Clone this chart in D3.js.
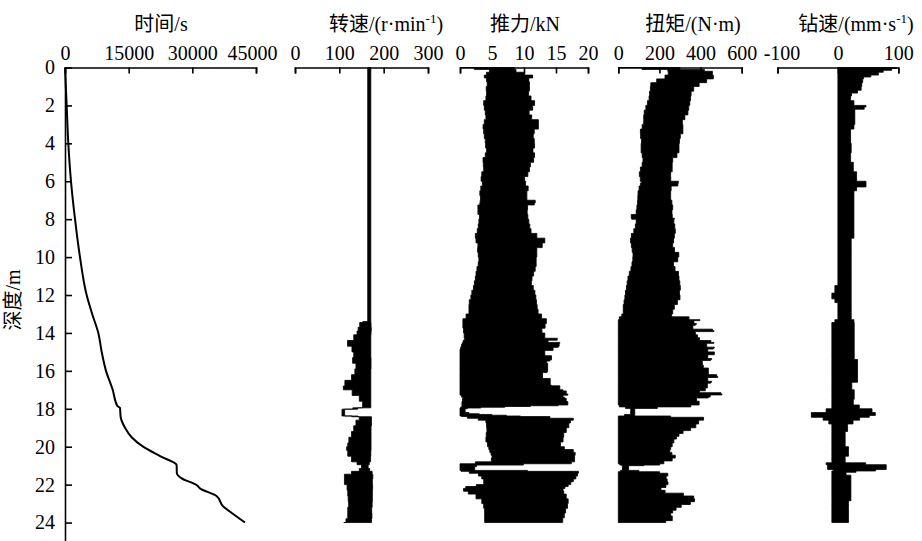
<!DOCTYPE html>
<html><head><meta charset="utf-8">
<script src="https://cdn.jsdelivr.net/npm/d3@7"></script>
<style>
body{margin:0;background:#fff;}
text{font-family:"Liberation Serif","Times New Roman",Times,"Noto Sans CJK SC",serif;fill:#000;}
</style></head>
<body>
<script>
// ---------- DATA ----------
const depthTicks = [0,2,4,6,8,10,12,14,16,18,20,22,24];
const timeTicks = [0,15000,30000,45000];
const speedTicks = [0,100,200,300];
const thrustTicks = [0,5,10,15,20];
const torqueTicks = [0,200,400,600];
const drillTicks = [-100,0,100];

// time vs depth
const timeDepth = [0,2,4,6,8,10,12,13,14,15,16,17,17.85,17.95,18.42,19,19.5,20,20.5,20.97,21.4,21.67,22.02,22.2,22.6,23.16,23.43,24.0];
const timeSec   = [0,390,780,1410,2360,3530,5100,6400,7850,8640,9660,11240,12330,12960,13100,14140,15700,18400,22400,26300,26350,27500,31000,31800,35700,37300,38900,42400];

// rotation speed envelope (r/min)
const speedDepth = [0,13.4,13.45,13.7,13.9,14.1,14.4,14.7,15.0,15.3,15.6,15.9,16.2,16.5,16.8,17.0,17.3,17.6,17.95,18.02,18.38,18.42,18.6,18.9,19.2,19.5,19.8,20.0,20.2,20.5,20.8,20.95,21.15,21.3,21.45,21.7,22.0,22.3,22.6,22.9,23.2,23.5,23.8,24.0];
const speedMin   = [164,164,142,150,135,145,120,117,140,125,135,140,130,125,100,118,140,150,155,106,106,150,140,135,130,125,118,120,113,125,130,150,150,140,115,108,115,120,118,122,120,118,120,110];
const speedMax   = [171,171,171,172,172,171,171,171,171,171,172,171,171,171,171,171,171,171,171,112,112,172,173,172,171,172,171,172,171,171,170,165,165,172,176,175,174,176,173,176,172,174,173,172];

// thrust envelope (kN)
const thrustDepth = [0,0.1,0.25,0.4,0.55,0.75,1,1.25,1.5,1.75,2,2.25,2.5,2.75,3,3.25,3.5,3.75,4,4.25,4.5,4.75,5,5.25,5.5,5.75,6,6.25,6.5,6.75,7,7.15,7.25,7.5,7.75,8,8.25,8.5,8.75,9,9.25,9.5,9.75,10,10.25,10.5,10.75,11,11.25,11.5,11.75,12,12.25,12.5,12.75,13,
  13.25,13.5,13.75,14,14.28,14.33,14.38,14.5,14.55,14.6,14.7,14.76,14.86,14.92,15.2,15.42,15.48,15.6,15.65,16.04,16.09,16.4,16.74,16.79,17.0,17.06,17.22,17.28,17.39,17.45,17.62,17.7,17.8,
  17.84,17.88,17.92,17.96,18.0,18.1,18.2,18.26,18.3,18.34,18.38,18.41,18.5,18.6,18.75,19,19.25,19.5,19.75,20,20.15,20.3,20.45,20.6,20.8,20.9,20.97,21.05,21.15,21.25,21.3,21.4,21.55,21.7,21.85,22,22.1,22.2,22.35,22.5,22.75,23,23.25,23.5,23.75,24];
const thrustMin   = [0,4.5,4.7,3.6,4.0,4.3,4.2,4.0,4.3,3.8,3.6,4.0,3.9,4.2,3.4,3.8,3.6,4.0,3.9,4.1,4.2,3.7,3.5,3.8,3.6,3.2,3.4,3.6,2.9,3.3,3.1,3.2,3.0,2.6,3.0,3.1,2.8,2.9,2.5,2.3,2.7,2.9,2.6,3.1,2.8,2.9,2.4,2.6,2.2,2.3,1.9,1.8,1.6,1.3,1.5,1.3,
  0.6,0.3,0.6,0.5,0.8,0.8,0.6,0.4,0.4,0.3,0.2,0.2,0,0,0,0,0,0,0,0,0,0,0,0,0,0,0,0,0.5,0.5,0.3,0.3,0.3,
  0.3,0.3,0.2,0,0,0,0,0,0,0,0,0.5,1.8,3.9,4.2,4.1,4.3,3.9,4.2,4.4,4.6,4.7,5.0,5.0,4.8,0,0,0,0,0,0.3,2.6,3.2,3.6,3.8,3.6,1.5,0.3,0.8,1.8,3.2,3.6,3.8,3.9,3.8,3.9];
const thrustMax   = [8,9,8.5,11.7,11.0,10.5,11.2,10.5,10.9,11.3,12.0,10.7,10.9,11.5,13.0,11.5,11.7,11.2,12.0,11.3,11.5,11.8,11.2,10.8,10.9,10.3,9.9,10.6,10.7,10.2,10.7,12.8,10.4,10.7,10.3,10.9,10.6,11.2,11.0,13.0,13.5,12.2,11.8,12.2,11.6,12.2,11.3,11.7,10.8,11.5,11.4,12.0,11.7,12.2,11.9,12.5,
  13.0,14.0,12.6,13.0,13.5,16.9,13.5,14.0,17.2,13.8,17.2,13.5,15.6,13.5,13.0,15.6,12.5,14.6,12.8,14.6,12.6,13.2,15.0,13.5,17.7,14.5,18.7,15.0,17.2,15.5,17.7,16.0,17.7,
  13,9,5,1.5,0.8,0.8,0.8,2,4,6,8.5,10.4,17.7,17.7,16.8,17.2,16.0,16.4,15.8,15.6,17.0,18.4,17.6,18.2,17.6,17.2,2.6,2.6,2.0,2.6,18.5,18.5,18.2,18.0,17.4,17.2,16.6,16.2,16.0,16.4,16.8,17.0,16.6,16.4,16.2,15.9];

// torque envelope (N·m)
const torqueDepth = [0,0.1,0.2,0.4,0.6,0.8,1,1.25,1.5,1.75,2,2.25,2.5,2.75,3,3.25,3.5,3.75,4,4.25,4.5,4.75,5,5.25,5.5,5.75,6,6.1,6.25,6.5,6.75,7,7.25,7.5,7.75,7.95,8,8.25,8.5,8.75,9,9.25,9.5,9.75,10,10.25,10.5,10.75,11,11.25,11.5,11.75,12,12.25,12.5,12.75,13,13.15,
  13.3,13.35,13.5,13.55,13.6,13.8,13.88,13.93,14.1,14.25,14.4,14.5,14.55,14.75,14.8,14.85,15.0,15.1,15.15,15.35,15.4,15.45,15.7,15.85,16.0,16.2,16.3,16.35,16.55,16.6,16.65,16.9,17.05,17.15,17.22,17.27,17.38,17.43,17.6,17.8,
  17.9,17.98,18.1,18.3,18.38,18.45,18.6,18.8,19,19.15,19.3,19.45,19.6,19.8,20,20.15,20.3,20.45,20.6,20.75,20.9,20.97,21.0,21.25,21.32,21.4,21.55,21.7,21.85,22,22.15,22.3,22.45,22.6,22.75,22.9,23.05,23.2,23.35,23.5,23.65,23.8,23.9,24];
const torqueMin   = [0,230,251,235,219,154,162,150,154,145,138,130,122,125,122,110,105,112,114,108,114,118,122,110,105,100,114,110,105,97,95,95,92,89,85,41,89,85,81,70,57,62,65,70,73,68,65,58,49,45,41,38,32,32,24,24,24,10,
  0,0,0,0,0,0,0,0,0,0,0,0,0,0,0,0,0,0,0,0,0,0,0,0,0,0,0,0,0,0,0,0,0,0,0,0,0,0,0,0,
  10,60,60,60,0,0,0,0,0,0,0,0,0,0,0,0,0,0,0,0,0,15,20,20,0,0,0,0,0,0,0,0,0,0,0,0,0,0,0,0,0,0,0,0];
const torqueMax   = [200,400,437,478,446,413,373,360,348,355,340,345,332,315,308,320,308,295,300,290,300,270,259,265,259,250,260,324,255,259,250,259,262,267,255,270,275,265,284,270,275,262,267,280,308,270,267,285,300,290,308,295,300,300,275,270,259,259,
  429,365,370,389,360,365,551,380,370,400,390,510,420,440,494,430,440,494,440,430,478,420,397,430,446,430,527,440,430,478,420,446,400,390,608,400,494,380,381,405,
  300,80,80,80,80,429,400,381,373,330,300,290,275,265,259,250,251,270,284,240,203,200,50,50,150,251,230,235,240,243,220,195,260,373,360,381,320,292,270,259,250,275,250,211];

// drilling speed envelope (mm/s)
const drillDepth = [0,0.05,0.15,0.25,0.4,0.5,0.6,0.8,1,1.2,1.35,1.5,1.75,2,2.08,2.2,2.5,2.75,3,3.25,3.5,4,4.5,5,5.5,6,6.15,6.3,6.5,7,7.5,8,8.5,9,9.5,10,10.5,11,11.5,11.9,12.2,12.4,13.3,13.45,14,15,15.4,15.8,16,16.4,16.6,17,17.5,17.8,18,18.2,18.35,18.45,18.6,18.8,19.2,20,20.3,20.5,20.85,20.95,21.2,21.28,21.35,21.5,22.7,22.85,23,23.2,23.8,24];
const drillMin   = [0,0,0,0,0,0,0,0,0,0,0,0,0,0,0,0,0,0,0,0,0,0,0,0,0,0,0,0,0,0,0,0,0,0,0,0,0,0,0,-10,-10,0,0,-10,-10,-10,-10,-10,-10,-10,-10,-10,-10,-10,-10,-29,-59,-29,-20,-10,-10,-10,-10,-10,-10,-29,-5,-10,-10,-10,-10,-10,-10,-10,-10,-10];
const drillMax   = [97,98,80,70,64,45,40,42,37,40,25,20,22,31,62,25,31,25,31,22,20,22,22,20,31,31,62,31,31,22,31,22,31,22,22,22,22,22,22,22,22,22,22,31,23,31,23,42,23,42,23,23,31,20,51,62,62,42,30,20,12,12,23,12,12,80,80,45,15,12,31,12,23,12,23,12];

// ---------- CHART ----------
const W = 922, H = 541, top0 = 67.5;
const FONT = '"Liberation Serif","Times New Roman",Times,serif';
const svg = d3.select('body').append('svg').attr('width', W).attr('height', H);
const y = d3.scaleLinear().domain([0, 25]).range([top0, 541.5]);

function zipEnv(d, lo, hi){ return d.map((v,i)=>({d:v, lo:lo[i], hi:hi[i]})); }

const panels = [
  {domain:[0,45000], range:[65,256], ticks:timeTicks, cx:161, title:[['时间/s']], nudge:{45000:-4}},
  {domain:[0,300], range:[295,428], ticks:speedTicks, cx:386, title:[['转速/(r·min'],['-1','sup'],[')']], env:zipEnv(speedDepth,speedMin,speedMax)},
  {domain:[0,20], range:[460,588], ticks:thrustTicks, cx:525, title:[['推力/kN']], env:zipEnv(thrustDepth,thrustMin,thrustMax)},
  {domain:[0,600], range:[618.3,741.7], ticks:torqueTicks, cx:693, title:[['扭矩/(N·m)']], env:zipEnv(torqueDepth,torqueMin,torqueMax)},
  {domain:[-100,100], range:[777.5,898.3], ticks:drillTicks, cx:856, title:[['钻速/(mm·s'],['-1','sup'],[')']], env:zipEnv(drillDepth,drillMin,drillMax), nudge:{'-100':4}}
];

panels.forEach((p) => {
  const x = d3.scaleLinear().domain(p.domain).range(p.range);
  p.x = x;
  if (p.env) {
    const area = d3.area()
      .curve(d3.curveStep)
      .y(d => y(d.d))
      .x0(d => x(d.lo))
      .x1(d => x(d.hi));
    svg.append('path').datum(p.env)
      .attr('d', area)
      .attr('fill', '#000')
      .attr('stroke', '#000')
      .attr('stroke-width', 0.8)
      .attr('stroke-linejoin', 'miter');
  }
  // top axis
  const ax = svg.append('g').attr('transform', `translate(0,${top0})`)
    .call(d3.axisTop(x).tickValues(p.ticks).tickSizeInner(-6).tickSizeOuter(-6).tickPadding(8).tickFormat(d => String(d)));
  ax.attr('font-family', FONT);
  ax.selectAll('path,line').attr('stroke', '#000').attr('stroke-width', 1.6);
  ax.selectAll('text').attr('font-size', 20).attr('font-family', FONT).attr('fill', '#000')
    .attr('dx', d => (p.nudge && p.nudge[d]) ? p.nudge[d] : 0);
  // title
  const t = svg.append('text').attr('x', p.cx).attr('y', 31).attr('text-anchor', 'middle').attr('font-size', 20);
  let n = 0;
  p.title.forEach(part => {
    const ts = t.append('tspan').text(part[0]);
    if (part[1] === 'sup') ts.attr('font-size', 13).attr('dy', -8);
    else if (n > 0) ts.attr('dy', 8);
    n++;
  });
});

// time curve
const tx = panels[0].x;
svg.append('path')
  .datum(timeDepth.map((d,i)=>({d, t: timeSec[i]})))
  .attr('d', d3.line().curve(d3.curveMonotoneY).x(d => tx(d.t)).y(d => y(d.d)))
  .attr('fill', 'none').attr('stroke', '#000').attr('stroke-width', 2);

// left depth axis
const ay = svg.append('g').attr('transform', 'translate(65,0)')
  .call(d3.axisLeft(y).tickValues(depthTicks).tickSizeInner(-7).tickSizeOuter(0).tickPadding(10));
ay.attr('font-family', FONT);
ay.selectAll('path,line').attr('stroke', '#000').attr('stroke-width', 1.6);
ay.selectAll('text').attr('font-size', 20).attr('font-family', FONT).attr('fill', '#000');

// depth label
svg.append('text').attr('transform', 'translate(20,300) rotate(-90)')
  .attr('text-anchor', 'middle').attr('font-size', 20).text('深度/m');
</script>
</body></html>
